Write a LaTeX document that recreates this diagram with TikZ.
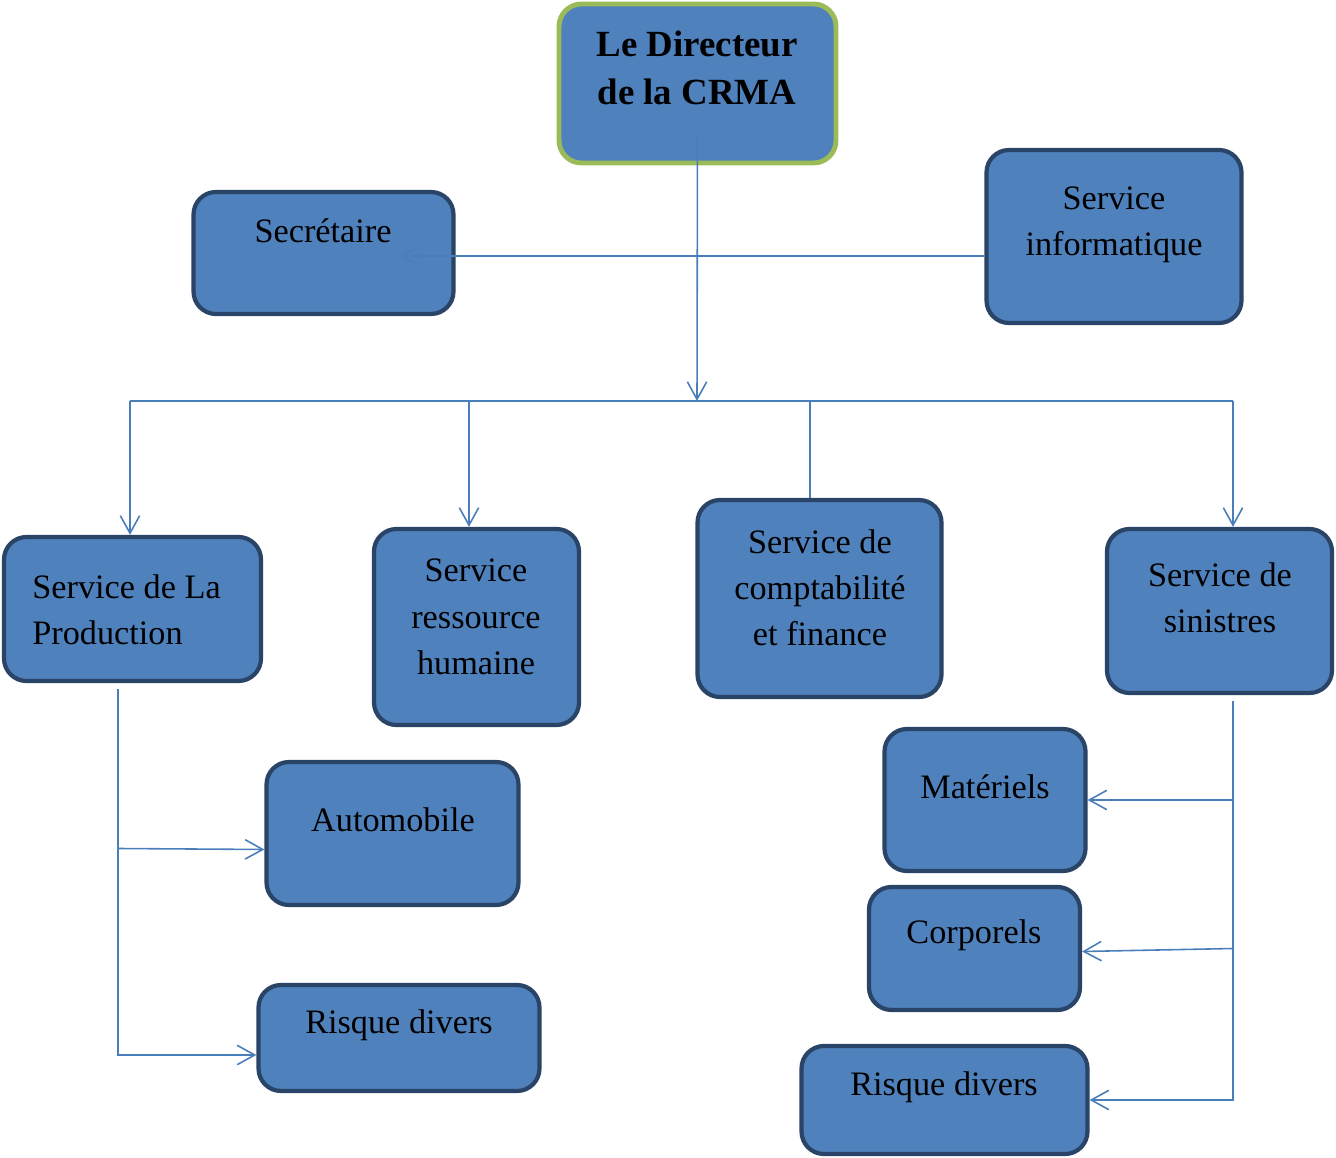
\documentclass[tikz,border=0pt]{standalone}
\usepackage{fontspec}
\setmainfont{Liberation Serif}
\usetikzlibrary{arrows.meta,calc}
\definecolor{boxblue}{HTML}{4F81BD}
\definecolor{boxedge}{HTML}{2A4467}
\definecolor{diredge}{HTML}{9BBB59}
\definecolor{linkblue}{HTML}{4A7EBB}
\tikzset{
  box/.style={draw=boxedge, line width=2.4pt, fill=boxblue, rounded corners=0.45cm, inner sep=0pt},
  wh/.style 2 args={minimum width=#1*0.02cm, minimum height=#2*0.02cm},
  txt/.style={align=center, font=\fontsize{19.5}{26.3}\selectfont, inner sep=0pt},
  conn/.style={draw=linkblue, line width=0.9pt},
}
\begin{document}
\begin{tikzpicture}[x=0.02cm, y=-0.02cm, >={Straight Barb[length=10pt,width=11pt]}]
\useasboundingbox (0,0) rectangle (1336,1158);
% boxes
\node[box, draw=diredge, line width=2.8pt, wh={277}{159}] (dir) at (697.5,83.5) {};
\node[box, wh={260}{122}] (sec) at (323.5,253) {};
\node[box, wh={255}{173}] (inf) at (1114,236.5) {};
\node[box, wh={257}{144}] (prod) at (132.5,609) {};
\node[box, wh={205}{196}] (rh) at (476.5,627) {};
\node[box, wh={244}{197}] (compta) at (819.5,598.5) {};
\node[box, wh={225}{164}] (sin) at (1219.5,611) {};
\node[box, wh={252}{143}] (auto) at (392.5,833.5) {};
\node[box, wh={281}{106}] (rd1) at (399,1038) {};
\node[box, wh={201}{142}] (mat) at (985,800) {};
\node[box, wh={211}{123}] (corp) at (974.5,948.5) {};
\node[box, wh={286}{108}] (rd2) at (944.5,1100) {};
% texts
\node[txt, font=\fontsize{21}{27}\selectfont\bfseries] (dirT) at (697,68) {Le Directeur\\de la CRMA};
\node[txt] (secT) at (323,231) {Secrétaire};
\node[txt] (infT) at (1114,225) {Service\\informatique};
\node[txt, align=left, anchor=west] (prodT) at (32,610) {Service de La\\Production};
\node[txt] (rhT) at (476,617) {Service\\ressource\\humaine};
\node[txt] (comptaT) at (820,588) {Service de\\comptabilité\\et finance};
\node[txt] (sinT) at (1220,597.5) {Service de\\sinistres};
\node[txt] (autoT) at (393,820) {Automobile};
\node[txt] (rd1T) at (399,1025) {Risque divers};
\node[txt] (matT) at (985,787) {Matériels};
\node[txt] (corpT) at (974,935) {Corporels};
\node[txt] (rd2T) at (944,1087) {Risque divers};
% links
\coordinate (bus) at (697,401);
\coordinate (busL) at (130,401);
\coordinate (busR) at (1233,401);
\coordinate (secIn) at (400,256);
\draw[conn,->] ($(dir.south)+(0,-32)$) -- (bus);
\draw[conn,->] (inf.west |- secIn) -- (secIn);
\draw[conn] (busL) -- (busR);
\draw[conn,->] (busL) -- (busL |- prod.north);
\draw[conn,->] (bus -| 469,0) -- (rh.north -| 469,0);
\draw[conn] (bus -| 810,0) -- (compta.north -| 810,0);
\draw[conn,->] (busR) -- (busR |- sin.north);
\draw[conn,->] ($(prod.south)+(-14.5,6)$) |- ($(rd1.west)+(0,17)$);
\draw[conn,->] ($(auto.west -| 118,0)+(0,15)$) -- ($(auto.west)+(0,16)$);
\draw[conn,->] ($(sin.south)+(13.5,6)$) |- (rd2.east);
\draw[conn,->] (mat.east -| 1233,0) -- (mat.east);
\draw[conn,->] (corp.east -| 1233,0) -- ($(corp.east)+(0,3)$);
\end{tikzpicture}
\end{document}
